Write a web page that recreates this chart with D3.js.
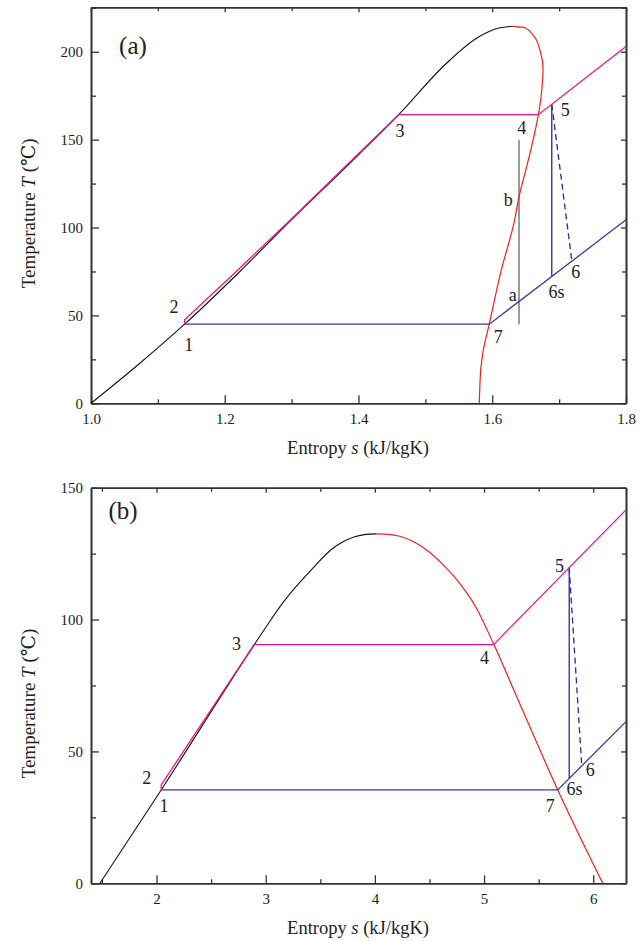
<!DOCTYPE html>
<html>
<head>
<meta charset="utf-8">
<script src="https://cdn.jsdelivr.net/npm/d3@7"></script>
<style>
  body { margin: 0; background: #fff; }
</style>
</head>
<body>
<script>
// ---- panel (a) data: s in kJ/kgK, T in degC ----
var liquidA = [[1.0, 0], [1.07, 21.8], [1.14, 45], [1.22, 74], [1.30, 104.5], [1.38, 134], [1.46, 164.2], [1.532, 193.6], [1.58, 208.5], [1.61, 213.5], [1.632, 214.5]];
var vaporA  = [[1.632, 214.5], [1.648, 213.8], [1.662, 209], [1.672, 200], [1.676, 190], [1.674, 178], [1.669, 164.2], [1.655, 140], [1.639, 115.7], [1.6335, 104.4], [1.613, 75], [1.5956, 45.2], [1.5865, 30], [1.583, 20], [1.5815, 10], [1.5806, 0]];
var hotA    = [[1.14, 45], [1.14, 47.5], [1.22, 76], [1.30, 105], [1.46, 164.2], [1.669, 164.2], [1.8, 203]];
var coldA   = [[1.14, 45], [1.5956, 45], [1.8, 104.4]];
var isenA   = [[1.689, 170.1], [1.689, 72.1]];
var realA   = [[1.689, 170.1], [1.719, 81]];
var grayA   = [[1.64, 45], [1.64, 150]];
var labelsA = [
  {t: "2", s: 1.124, T: 55.0}, {t: "1", s: 1.146, T: 33.2}, {t: "3", s: 1.462, T: 154.7},
  {t: "4", s: 1.644, T: 156.6}, {t: "5", s: 1.709, T: 167.0}, {t: "b", s: 1.624, T: 115.8},
  {t: "a", s: 1.6306, T: 61.7}, {t: "6s", s: 1.696, T: 63.6}, {t: "6", s: 1.725, T: 74.9},
  {t: "7", s: 1.609, T: 37.9}
];
var xTicksA = [1.0, 1.2, 1.4, 1.6, 1.8];
var xMinorA = [1.1, 1.3, 1.5, 1.7];
var yTicksA = [0, 50, 100, 150, 200];
var yMinorA = [25, 75, 125, 175, 225];

// ---- panel (b) data ----
var liquidB = [[1.482, 0], [2.043, 35.4], [2.894, 90.4], [3.0, 97], [3.16, 106.5], [3.30, 113.5], [3.45, 120.3], [3.59, 126.2], [3.70, 129.3], [3.815, 131.4], [3.92, 132.3], [4.014, 132.5]];
var vaporB  = [[4.014, 132.5], [4.12, 132.3], [4.227, 131.6], [4.35, 129.6], [4.471, 126.5], [4.61, 121.4], [4.746, 115.3], [4.929, 104.4], [5.087, 90.8], [5.309, 69.8], [5.675, 35.4], [6.087, 0]];
var hotB    = [[2.043, 35.4], [2.043, 37.3], [2.894, 90.5], [5.087, 90.5], [6.3, 141.6]];
var coldB   = [[2.043, 35.4], [5.675, 35.4], [6.3, 61.3]];
var isenB   = [[5.78, 119.7], [5.78, 39.8]];
var realB   = [[5.78, 119.7], [5.895, 44.5]];
var labelsB = [
  {t: "3", s: 2.733, T: 90.7}, {t: "4", s: 5.005, T: 85.4}, {t: "5", s: 5.691, T: 120.4},
  {t: "2", s: 1.910, T: 39.8}, {t: "1", s: 2.068, T: 29.3}, {t: "6", s: 5.972, T: 43.0},
  {t: "6s", s: 5.828, T: 35.7}, {t: "7", s: 5.606, T: 29.3}
];
var xTicksB = [2, 3, 4, 5, 6];
var xMinorB = [1.5, 2.5, 3.5, 4.5, 5.5];
var yTicksB = [0, 50, 100, 150];
var yMinorB = [25, 75, 125];

var FONT = "'Liberation Serif', 'Times New Roman', Times, 'DejaVu Serif', serif";
var W = 644, H = 941;
var svg = d3.select("body").append("svg").attr("width", W).attr("height", H)
  .attr("font-family", FONT);

function drawPanel (p) {
  var x = d3.scaleLinear().domain(p.xDomain).range([91, 626]);
  var y = d3.scaleLinear().domain(p.yDomain).range([p.bottom, p.top]);
  var g = svg.append("g");

  function axes (gen, scale, vals, size, tx, ty, fmt) {
    var a = gen(scale).tickValues(vals).tickSizeInner(-size).tickSizeOuter(0).tickPadding(10);
    a.tickFormat(fmt || "");
    var el = g.append("g")
      .attr("transform", "translate(" + tx + "," + ty + ")")
      .call(a);
    el.attr("font-family", FONT);
    el.select(".domain").attr("stroke", "#333").attr("stroke-width", 1.6);
    el.selectAll("line").attr("stroke", "#333").attr("stroke-width", 1.3);
    el.selectAll("text").attr("font-size", 15).attr("fill", "#222");
    return el;
  }

  var yMinor = p.yMinor.filter(function (v) { return v < p.yDomain[1]; });
  axes(d3.axisBottom, x, p.xTicks, 8, 0, p.bottom, p.xFmt);
  axes(d3.axisBottom, x, p.xMinor, 4, 0, p.bottom);
  axes(d3.axisTop, x, p.xTicks, 5, 0, p.top);
  axes(d3.axisTop, x, p.xMinor, 4, 0, p.top);
  var yl = axes(d3.axisLeft, y, p.yTicks, 8, 91, 0, d3.format("d"));
  yl.selectAll("text").attr("dx", 2);
  axes(d3.axisLeft, y, yMinor, 5, 91, 0);
  axes(d3.axisRight, y, p.yTicks, 5, 626, 0);
  axes(d3.axisRight, y, yMinor, 4, 626, 0);

  function line (curve) {
    return d3.line().x(function (d) { return x(d[0]); }).y(function (d) { return y(d[1]); }).curve(curve);
  }
  var straight = line(d3.curveLinear);

  function path (data, gen, color, w, dash) {
    g.append("path").datum(data).attr("d", gen)
      .attr("fill", "none").attr("stroke", color).attr("stroke-width", w)
      .attr("stroke-dasharray", dash || null);
  }

  if (p.gray) path(p.gray, straight, "#7a7a7a", 1.5);
  path(p.liquid, line(d3.curveMonotoneX), "#111", 1.1);
  path(p.vapor, line(p.vaporCurve), "#f02020", 1.2);
  path(p.cold, straight, "#3838a8", 1.3);
  path(p.isen, straight, "#2a2a9a", 1.3);
  path(p.real, straight, "#2a2a9a", 1.3, "6,4");
  path(p.hot, straight, "#e8168a", 1.3);

  g.selectAll(".lbl").data(p.labels).enter().append("text")
    .attr("x", function (d) { return x(d.s); })
    .attr("y", function (d) { return y(d.T); })
    .attr("text-anchor", "middle").attr("dominant-baseline", "central")
    .attr("font-size", 18).attr("fill", "#222").text(function (d) { return d.t; });

  g.append("text").attr("x", x(p.tag[1])).attr("y", y(p.tag[2]))
    .attr("text-anchor", "middle").attr("dominant-baseline", "central")
    .attr("font-size", 25).attr("fill", "#222").text(p.tag[0]);

  var xt = g.append("text").attr("x", 358).attr("y", p.bottom + 45)
    .attr("text-anchor", "middle").attr("dominant-baseline", "central")
    .attr("font-size", 18.5).attr("fill", "#222");
  xt.append("tspan").text("Entropy ");
  xt.append("tspan").attr("font-style", "italic").text("s");
  xt.append("tspan").text(" (kJ/kgK)");

  var yt = g.append("text")
    .attr("transform", "translate(28," + ((p.top + p.bottom) / 2 + p.yTitleShift) + ") rotate(-90)")
    .attr("text-anchor", "middle").attr("dominant-baseline", "central")
    .attr("font-size", 19).attr("fill", "#222");
  yt.append("tspan").text("Temperature ");
  yt.append("tspan").attr("font-style", "italic").text("T");
  yt.append("tspan").text(" (\u2103)");
}

drawPanel({
  xDomain: [1.0, 1.8], yDomain: [0, 225.3], top: 7.3, bottom: 403.3,
  xTicks: xTicksA, xMinor: xMinorA, yTicks: yTicksA, yMinor: yMinorA,
  xFmt: d3.format(".1f"), yTitleShift: 8,
  liquid: liquidA, vapor: vaporA, vaporCurve: d3.curveMonotoneY,
  hot: hotA, cold: coldA, isen: isenA, real: realA, gray: grayA,
  labels: labelsA, tag: ["(a)", 1.0628, 203.5]
});
drawPanel({
  xDomain: [1.4, 6.3], yDomain: [0, 150], top: 487.7, bottom: 883.3,
  xTicks: xTicksB, xMinor: xMinorB, yTicks: yTicksB, yMinor: yMinorB,
  xFmt: d3.format("d"), yTitleShift: 18,
  liquid: liquidB, vapor: vaporB, vaporCurve: d3.curveMonotoneX,
  hot: hotB, cold: coldB, isen: isenB, real: realB, gray: null,
  labels: labelsB, tag: ["(b)", 1.693, 141.2]
});
</script>
</body>
</html>
